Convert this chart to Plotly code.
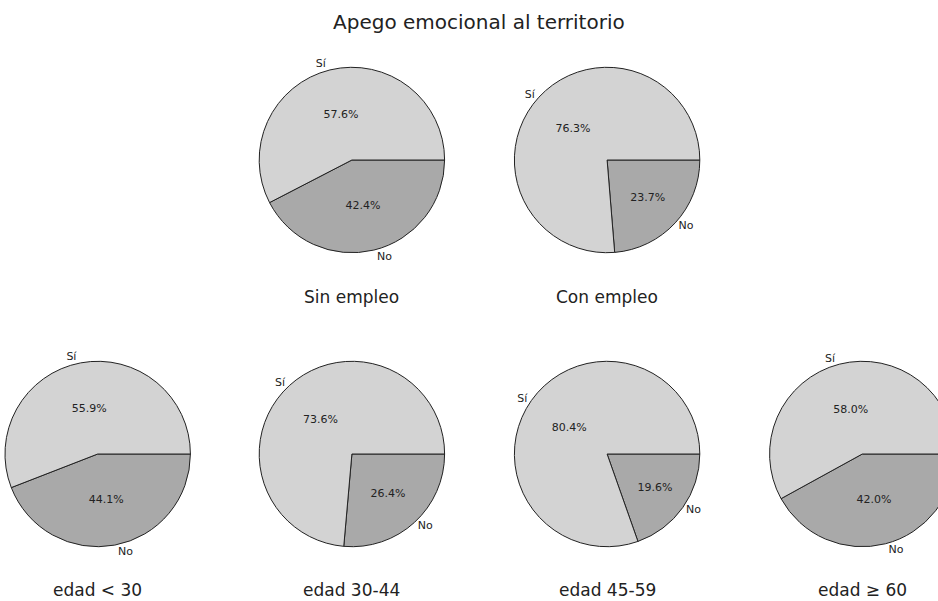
import plotly.graph_objects as go

# ---- data ----
labels = ["No", "Sí"]
groups = ["Sin empleo", "Con empleo", "edad < 30", "edad 30-44", "edad 45-59", "edad ≥ 60"]
si_values = [57.6, 76.3, 55.9, 73.6, 80.4, 58.0]
no_values = [42.4, 23.7, 44.1, 26.4, 19.6, 42.0]
title_text = "Apego emocional al territorio"

# ---- layout (pixels) ----
W, H = 960, 601
D = 186
centers = [(353, 160), (609, 160), (98, 454), (353, 454), (609, 454), (865, 454)]
title_y = [297, 297, 590, 590, 590, 590]
colors = ["#a9a9a9", "#d3d3d3"]  # No, Sí
font = "DejaVu Sans"


def dom(cx, cy):
    return dict(x=[(cx - D / 2) / W, (cx + D / 2) / W],
                y=[1 - (cy + D / 2) / H, 1 - (cy - D / 2) / H])


fig = go.Figure()
annotations = []
for g, s, n, (cx, cy), ty in zip(groups, si_values, no_values, centers, title_y):
    vals = [n, s]
    # slices with percentages inside (Sí runs counterclockwise from 3 o'clock)
    fig.add_trace(go.Pie(
        labels=labels, values=vals, domain=dom(cx, cy), sort=False,
        direction="counterclockwise", rotation=90,
        marker=dict(colors=colors, line=dict(color="#222222", width=1)),
        texttemplate="%{percent:.1%}", textposition="inside",
        insidetextorientation="horizontal",
        insidetextfont=dict(family=font, size=11, color="#222222"),
        showlegend=False, hoverinfo="label+percent",
    ))
    # transparent overlay carrying the outside labels
    fig.add_trace(go.Pie(
        labels=labels, values=vals, domain=dom(cx, cy), sort=False,
        direction="counterclockwise", rotation=90,
        marker=dict(colors=["rgba(0,0,0,0)"] * 2, line=dict(width=0)),
        texttemplate="%{label}", textposition="outside",
        outsidetextfont=dict(family=font, size=11, color="#222222"),
        showlegend=False, hoverinfo="skip",
    ))
    annotations.append(dict(text=g, x=cx / W, y=1 - ty / H, xref="paper", yref="paper",
                            showarrow=False, xanchor="center", yanchor="middle",
                            font=dict(family=font, size=17, color="#222222")))

annotations.append(dict(text=title_text, x=480 / W, y=1 - 22 / H, xref="paper", yref="paper",
                        showarrow=False, xanchor="center", yanchor="middle",
                        font=dict(family=font, size=20, color="#222222")))

fig.update_layout(
    width=W, height=H, autosize=False,
    margin=dict(l=0, r=0, t=0, b=0),
    paper_bgcolor="white", plot_bgcolor="white",
    annotations=annotations,
    font=dict(family=font),
)

fig.write_html("out.html", config={"displayModeBar": False},
               post_script="document.body.style.margin='0';document.body.style.overflow='hidden';")
